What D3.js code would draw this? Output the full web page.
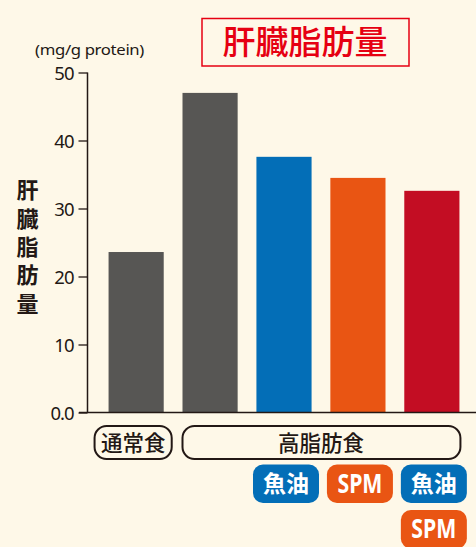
<!DOCTYPE html>
<html>
<head>
<meta charset="utf-8">
<script src="https://cdn.jsdelivr.net/npm/d3@7"></script>
<style>
  html, body { margin: 0; padding: 0; background: #fef8e8; }
  svg { display: block; }
</style>
</head>
<body>
<svg id="chart" width="476" height="547"></svg>
<script>
// Liver fat per diet group (mg/g protein)
const categories = ["通常食", "高脂肪食", "高脂肪食+魚油", "高脂肪食+SPM", "高脂肪食+魚油+SPM"];
const values = [23.6, 47.0, 37.6, 34.5, 32.6];
const barColors = ["#575654", "#575654", "#036eb7", "#e95513", "#c30d23"];
const tickValues = [0, 10, 20, 30, 40, 50];
const tickLabels = ["0.0", "10", "20", "30", "40", "50"];
const groupLabels = [
  { text: "通常食", from: 0, to: 0 },
  { text: "高脂肪食", from: 1, to: 4 }
];
// supplement badges under each bar: [category index, row, label]
const badges = [
  { cat: 2, row: 0, text: "魚油" },
  { cat: 3, row: 0, text: "SPM" },
  { cat: 4, row: 0, text: "魚油" },
  { cat: 4, row: 1, text: "SPM" }
];
const badgeColors = { "魚油": "#036eb7", "SPM": "#e95513" };
const title = "肝臓脂肪量";
const yTitle = "肝臓脂肪量";
const unit = "(mg/g protein)";

const svg = d3.select("#chart");
const ink = "#231815";
const latin = "'Noto Sans', 'Open Sans', sans-serif";
const cjk = "'Noto Sans CJK JP', 'Noto Sans', sans-serif";

const y = d3.scaleLinear().domain([0, 50]).range([412.5, 72.5]);
const x = d3.scaleBand().domain(categories).range([96, 472]).paddingInner(0.254).paddingOuter(0.17);

// title box
svg.append("rect").attr("x", 202).attr("y", 18.5).attr("width", 207).attr("height", 47.5)
  .attr("fill", "none").attr("stroke", "#e60012").attr("stroke-width", 1.5);
svg.append("text").attr("x", 305).attr("y", 54).attr("text-anchor", "middle")
  .attr("font-family", cjk).attr("font-size", 33).attr("font-weight", 500)
  .attr("fill", "#e60012").text(title);

// unit
svg.append("text").attr("x", 89.5).attr("y", 55).attr("text-anchor", "middle")
  .attr("font-family", latin).attr("font-size", 14.5).attr("letter-spacing", -0.3)
  .attr("textLength", 109).attr("lengthAdjust", "spacingAndGlyphs")
  .attr("fill", ink).text(unit);

// vertical axis title, set top-to-bottom
svg.append("text")
  .attr("x", 27.5).attr("y", 179)
  .style("writing-mode", "vertical-rl")
  .attr("font-family", cjk).attr("font-size", 22).attr("font-weight", 700)
  .attr("letter-spacing", 6.3)
  .attr("fill", ink).text(yTitle);

// bars
svg.append("g").selectAll("rect").data(values).join("rect")
  .attr("x", (d, i) => x(categories[i]))
  .attr("y", d => y(d))
  .attr("width", x.bandwidth())
  .attr("height", d => y(0) - y(d))
  .attr("fill", (d, i) => barColors[i]);

// y axis
const yAxis = d3.axisLeft(y).tickValues(tickValues).tickSize(9).tickPadding(5)
  .tickFormat((d, i) => tickLabels[i]);
const gy = svg.append("g").attr("transform", "translate(87.5,0)").call(yAxis);
gy.select(".domain").attr("d", `M0,${y(50)}V${y(0)}`).attr("stroke", ink).attr("stroke-width", 1.5);
gy.selectAll(".tick line").attr("stroke", ink).attr("stroke-width", 1.3);
gy.selectAll(".tick text").attr("font-family", latin).attr("font-size", 18.5)
  .attr("letter-spacing", -1).attr("fill", ink).attr("dy", "0.36em");

// baseline
svg.append("line").attr("x1", 79).attr("x2", 476).attr("y1", y(0)).attr("y2", y(0))
  .attr("stroke", ink).attr("stroke-width", 1.3);

// diet group labels
const gGroups = svg.append("g").selectAll("g").data(groupLabels).join("g");
gGroups.append("rect")
  .attr("x", d => d.from === d.to ? x(categories[d.from]) - 14 : x(categories[d.from]))
  .attr("y", 426)
  .attr("width", d => d.from === d.to ? x.bandwidth() + 22 : x(categories[d.to]) + x.bandwidth() - x(categories[d.from]) + 1)
  .attr("height", 33)
  .attr("rx", 12)
  .attr("fill", "none").attr("stroke", ink).attr("stroke-width", 2);
gGroups.append("text")
  .attr("x", d => d.from === d.to ? x(categories[d.from]) + x.bandwidth() / 2 - 3
                                  : (x(categories[d.from]) + x(categories[d.to]) + x.bandwidth()) / 2)
  .attr("y", 451).attr("text-anchor", "middle")
  .attr("font-family", cjk).attr("font-size", 21.5).attr("font-weight", 500)
  .attr("fill", ink).text(d => d.text);

// supplement badges
const gBadges = svg.append("g").selectAll("g").data(badges).join("g")
  .attr("transform", d => `translate(${x(categories[d.cat]) + x.bandwidth() / 2 + 2},${464.5 + d.row * 45.5})`);
gBadges.append("rect").attr("x", -33).attr("y", 0).attr("width", 66).attr("height", 38.5)
  .attr("rx", 10).attr("fill", d => badgeColors[d.text]);
gBadges.append("text").attr("x", 0)
  .attr("y", d => d.text === "SPM" ? 28 : 27)
  .attr("text-anchor", "middle")
  .attr("font-family", d => d.text === "SPM" ? latin : cjk)
  .attr("font-size", d => d.text === "SPM" ? 26 : 23)
  .attr("font-weight", 700)
  .attr("textLength", d => d.text === "SPM" ? 45 : 46)
  .attr("lengthAdjust", "spacingAndGlyphs")
  .attr("fill", "#ffffff").text(d => d.text);
</script>
</body>
</html>
